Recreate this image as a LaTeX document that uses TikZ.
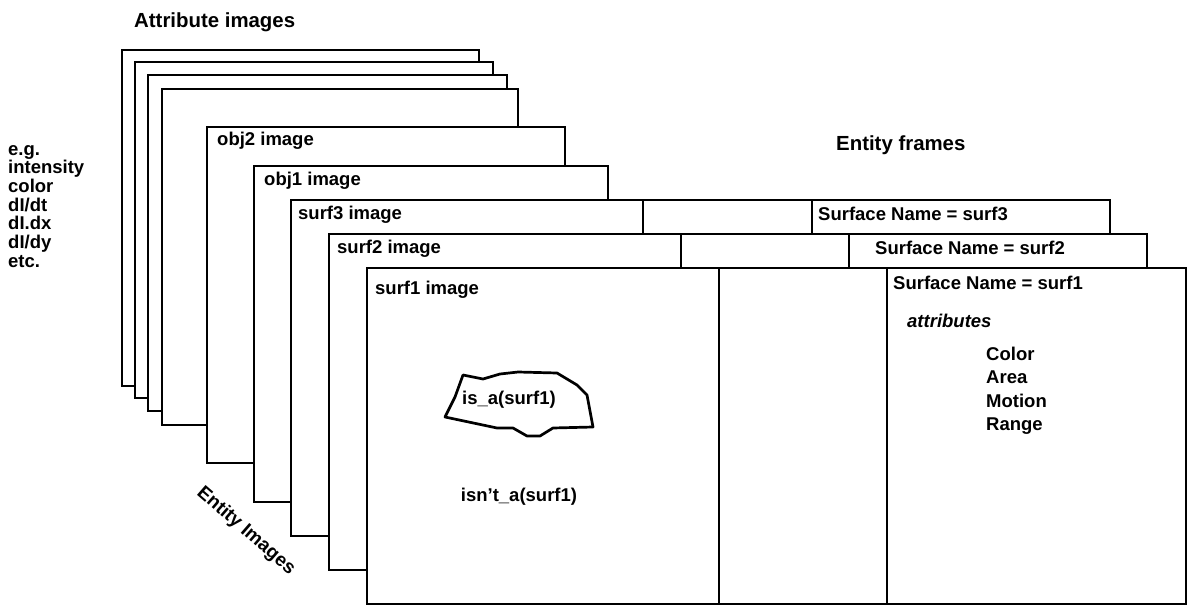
\documentclass[tikz,border=0pt]{standalone}
\usepackage{fontspec}
\setmainfont{Liberation Sans}
\usetikzlibrary{positioning}

\tikzset{
  sheet/.style  = {draw, fill=white, line width=2.7pt, anchor=north west,
                   inner sep=0pt, outer sep=0pt, minimum height=336pt},
  lbl/.style    = {font=\fontsize{18.5}{19}\selectfont\bfseries, inner sep=0pt,
                   anchor=west},
  ttl/.style    = {lbl, font=\fontsize{20.4}{21}\selectfont\bfseries},
  attr/.style   = {lbl, anchor=north west, align=left,
                   font=\fontsize{18.5}{23.3}\selectfont\bfseries},
  chan/.style   = {lbl, anchor=north west, align=left,
                   font=\fontsize{18.5}{18.7}\selectfont\bfseries},
  blob/.style   = {line width=2.7pt, line join=round},
}

\begin{document}
\begin{tikzpicture}[x=1pt, y=-1pt]
  \useasboundingbox (0,0) rectangle (1187,605);

  % ---------- attribute images (back of the stack) ---------------------
  \node[sheet, minimum width=357pt] (att1) at (122,50) {};
  \node[sheet, minimum width=358pt] (att2) at (135,62) {};
  \node[sheet, minimum width=359pt] (att3) at (148,75) {};
  \node[sheet, minimum width=356pt] (att4) at (162,89) {};

  % ---------- object images --------------------------------------------
  \node[sheet, minimum width=358pt] (obj2) at (207,127) {};
  \node[sheet, minimum width=354pt] (obj1) at (254,166) {};

  % ---------- surfaces: image | blank | entity frame -------------------
  \node[sheet, minimum width=352pt] (surf3)  at (291,200) {};
  \node[sheet, minimum width=169pt] (mid3)   at (surf3.north east) {};
  \node[sheet, minimum width=298pt] (frame3) at (mid3.north east) {};

  \node[sheet, minimum width=352pt] (surf2)  at (329,234) {};
  \node[sheet, minimum width=168pt] (mid2)   at (surf2.north east) {};
  \node[sheet, minimum width=298pt] (frame2) at (mid2.north east) {};

  \node[sheet, minimum width=352pt] (surf1)  at (367,268) {};
  \node[sheet, minimum width=168pt] (mid1)   at (surf1.north east) {};
  \node[sheet, minimum width=299pt] (frame1) at (mid1.north east) {};

  % ---------- sheet labels ---------------------------------------------
  \node[lbl] (obj2lbl)  at ([shift={(10,14)}]obj2.north west)  {obj2 image};
  \node[lbl] (obj1lbl)  at ([shift={(10,15)}]obj1.north west)  {obj1 image};
  \node[lbl] (surf3lbl) at ([shift={(7,15)}]surf3.north west)  {surf3 image};
  \node[lbl] (surf2lbl) at ([shift={(8,15)}]surf2.north west)  {surf2 image};
  \node[lbl] (surf1lbl) at ([shift={(8,22)}]surf1.north west)  {surf1 image};

  \node[lbl] (name3) at ([shift={(6,14)}]frame3.north west)  {Surface Name = surf3};
  \node[lbl] (name2) at ([shift={(26,14)}]frame2.north west) {Surface Name = surf2};
  \node[lbl] (name1) at ([shift={(6,15)}]frame1.north west)  {Surface Name = surf1};

  % ---------- frame contents -------------------------------------------
  \node[lbl, font=\fontsize{18.5}{19}\selectfont\bfseries\itshape] (attrs)
    at (907,321) {attributes};
  \node[attr] (attlist) at (986,347) {Color\\ Area\\ Motion\\ Range};

  % ---------- the region in surf1 --------------------------------------
  \draw[blob] (463,375) -- (483,379) -- (500,374) -- (518,372) -- (557,373)
    -- (577,385) -- (587,395) -- (593,427) -- (553,428) -- (540,436)
    -- (527,436) -- (513,428) -- (497,428) -- (445,417) -- (455,397) -- cycle;
  \node[lbl, anchor=center] (isa)  at (509,400) {is\_a(surf1)};
  \node[lbl, anchor=center] (isnt) at (519,497) {isn't\_a(surf1)};

  % ---------- titles ---------------------------------------------------
  \node[ttl] (attitle) at (134,22)  {Attribute images};
  \node[ttl] (frtitle) at (836,145) {Entity frames};
  \node[lbl, font=\fontsize{19}{20}\selectfont\bfseries, anchor=center,
        rotate=-41] (imtitle) at (246,531) {Entity Images};
  \node[chan] (channels) at (8,145)
    {e.g.\\ intensity\\ color\\ dI/dt\\ dI.dx\\ dI/dy\\ etc.};

\end{tikzpicture}
\end{document}
